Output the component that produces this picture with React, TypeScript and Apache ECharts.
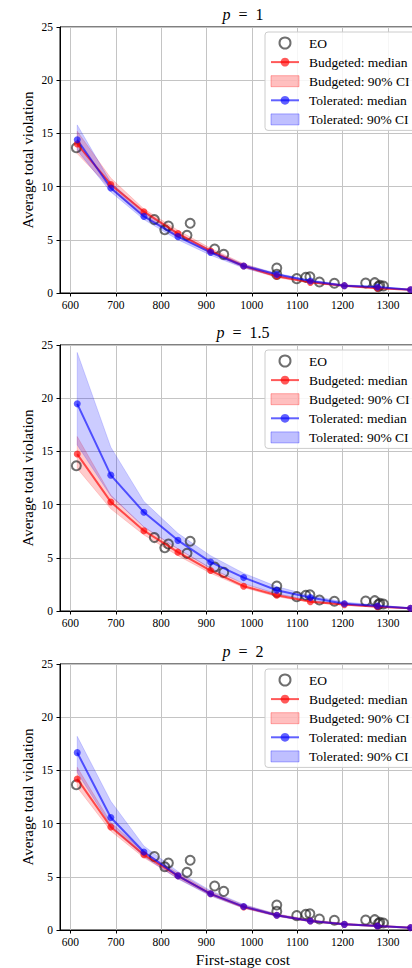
import React, { useEffect, useRef } from 'react';
import * as echarts from 'echarts';

const FONT = 'Liberation Serif';

const costs = [615, 689, 762, 837, 909, 982, 1055, 1129, 1204, 1277, 1350];

const eoCost = [613, 785, 808, 816, 857, 864, 918, 938, 1055, 1055, 1099, 1119, 1128, 1149, 1182, 1251, 1271, 1279, 1282, 1290];
const eoViolation = [13.65, 6.9, 5.95, 6.3, 5.42, 6.55, 4.14, 3.63, 2.35, 1.75, 1.35, 1.47, 1.53, 1.03, 0.91, 0.94, 0.97, 0.6, 0.72, 0.66];

const panelP = ['1', '1.5', '2'];

// p = 1
const budMed1 = [14.0, 10.2, 7.64, 5.58, 3.95, 2.54, 1.57, 1.0, 0.69, 0.44, 0.31];
const budLo1 = [13.1, 9.8, 7.2, 5.3, 3.75, 2.4, 1.45, 0.92, 0.62, 0.4, 0.27];
const budHi1 = [15.2, 10.8, 7.9, 5.9, 4.2, 2.75, 1.75, 1.12, 0.78, 0.5, 0.36];
const tolMed1 = [14.4, 9.87, 7.2, 5.3, 3.82, 2.54, 1.75, 1.13, 0.69, 0.56, 0.31];
const tolLo1 = [13.4, 9.5, 6.9, 5.0, 3.55, 2.35, 1.55, 1.0, 0.62, 0.48, 0.27];
const tolHi1 = [15.8, 10.4, 7.6, 5.6, 4.05, 2.7, 1.85, 1.22, 0.78, 0.6, 0.35];

// p = 1.5
const budMed2 = [14.75, 10.25, 7.55, 5.53, 3.8, 2.33, 1.48, 0.88, 0.6, 0.4, 0.25];
const budLo2 = [13.4, 9.6, 7.15, 5.2, 3.55, 2.2, 1.35, 0.8, 0.53, 0.35, 0.2];
const budHi2 = [16.4, 10.9, 7.9, 5.85, 4.05, 2.55, 1.62, 0.98, 0.68, 0.46, 0.28];
const tolMed2 = [19.47, 12.77, 9.28, 6.64, 4.6, 3.14, 1.95, 1.26, 0.69, 0.47, 0.25];
const tolLo2 = [15.6, 10.8, 7.9, 5.85, 4.0, 2.6, 1.6, 1.0, 0.6, 0.4, 0.2];
const tolHi2 = [24.3, 15.4, 10.3, 7.3, 5.2, 3.55, 2.3, 1.45, 0.85, 0.55, 0.3];

// p = 2
const budMed3 = [14.2, 9.68, 7.07, 5.09, 3.4, 2.17, 1.38, 0.85, 0.53, 0.38, 0.22];
const budLo3 = [13.4, 9.3, 6.8, 4.85, 3.25, 2.05, 1.3, 0.78, 0.48, 0.33, 0.18];
const budHi3 = [15.3, 10.1, 7.35, 5.35, 3.6, 2.35, 1.5, 0.95, 0.62, 0.44, 0.27];
const tolMed3 = [16.67, 10.57, 7.33, 5.09, 3.4, 2.2, 1.38, 0.85, 0.53, 0.38, 0.22];
const tolLo3 = [14.8, 9.8, 6.9, 4.8, 3.2, 2.05, 1.28, 0.78, 0.48, 0.33, 0.18];
const tolHi3 = [18.2, 12.1, 7.9, 5.5, 3.7, 2.4, 1.5, 0.95, 0.62, 0.44, 0.27];

const panels = [
  { budMed: budMed1, budLo: budLo1, budHi: budHi1, tolMed: tolMed1, tolLo: tolLo1, tolHi: tolHi1 },
  { budMed: budMed2, budLo: budLo2, budHi: budHi2, tolMed: tolMed2, tolLo: tolLo2, tolHi: tolHi2 },
  { budMed: budMed3, budLo: budLo3, budHi: budHi3, tolMed: tolMed3, tolLo: tolLo3, tolHi: tolHi3 },
];

const yTicks = [0, 5, 10, 15, 20, 25];

const gridTops = [27, 345, 664];
const gridHeight = 266;
const gridLeft = 60;
const gridWidth = 366;

const RED = 'rgba(255,0,0,0.65)';
const BLUE = 'rgba(0,0,255,0.62)';
const RED_BAND = 'rgba(255,0,0,0.2)';
const BLUE_BAND = 'rgba(0,0,255,0.2)';

function bandRenderer(fill: string) {
  return (params: any, api: any) => {
    if (params.dataIndexInside !== 0) return null;
    const n = params.dataInsideLength;
    const upper: number[][] = [];
    const lower: number[][] = [];
    for (let k = 0; k < n; k++) {
      const x = api.value(0, k);
      upper.push(api.coord([x, api.value(2, k)]));
      lower.push(api.coord([x, api.value(1, k)]));
    }
    const pts = upper.concat(lower.reverse());
    return {
      type: 'polygon',
      shape: { points: pts },
      style: { fill, stroke: fill, lineWidth: 0.8 },
      silent: true,
    };
  };
}

export default function App() {
  const ref = useRef<HTMLDivElement>(null);

  useEffect(() => {
    if (!ref.current) return;
    const chart = echarts.init(ref.current, undefined, { renderer: 'svg' });

    const grids: any[] = [];
    const xAxes: any[] = [];
    const yAxes: any[] = [];
    const series: any[] = [];
    const legends: any[] = [];
    const graphics: any[] = [];

    panels.forEach((pd, i) => {
      grids.push({
        left: gridLeft,
        top: gridTops[i],
        width: gridWidth,
        height: gridHeight,
        show: true,
        borderColor: '#000',
        borderWidth: 1,
        backgroundColor: 'transparent',
      });
      xAxes.push({
        type: 'value',
        gridIndex: i,
        min: 577,
        max: 1384,
        minInterval: 100,
        maxInterval: 100,
        name: i === 2 ? 'First-stage cost' : '',
        nameLocation: 'middle',
        nameGap: 21,
        nameMoveOverlap: false,
        nameTextStyle: { fontFamily: FONT, fontSize: 15.5, color: '#000' },
        axisLine: { show: true, lineStyle: { color: '#000', width: 1 } },
        axisTick: { show: true, length: 3.5, lineStyle: { color: '#000' } },
        axisLabel: {
          fontFamily: FONT,
          fontSize: 11.5,
          color: '#000',
          margin: 6,
          showMinLabel: false,
          showMaxLabel: false,
          formatter: (v: number) => (v % 100 === 0 ? String(v) : ''),
        },
        splitLine: { show: true, lineStyle: { color: '#c4c4c4', width: 1 } },
      });
      yAxes.push({
        type: 'value',
        gridIndex: i,
        min: yTicks[0],
        max: yTicks[yTicks.length - 1],
        interval: 5,
        name: 'Average total violation',
        nameLocation: 'middle',
        nameGap: 25,
        nameMoveOverlap: false,
        nameTextStyle: { fontFamily: FONT, fontSize: 15, color: '#000' },
        axisLine: { show: true, lineStyle: { color: '#000', width: 1 } },
        axisTick: { show: true, length: 3.5, lineStyle: { color: '#000' } },
        axisLabel: { fontFamily: FONT, fontSize: 11.5, color: '#000', margin: 7 },
        splitLine: { show: true, lineStyle: { color: '#c4c4c4', width: 1 } },
      });

      const base = { xAxisIndex: i, yAxisIndex: i };

      series.push({
        ...base,
        type: 'custom',
        name: 'Budgeted: 90% CI',
        data: costs.map((c, k) => [c, pd.budLo[k], pd.budHi[k]]),
        encode: { x: 0, y: [1, 2] },
        renderItem: bandRenderer(RED_BAND),
        itemStyle: { color: RED_BAND },
        clip: true,
        silent: true,
        z: 1,
      });
      series.push({
        ...base,
        type: 'custom',
        name: 'Tolerated: 90% CI',
        data: costs.map((c, k) => [c, pd.tolLo[k], pd.tolHi[k]]),
        encode: { x: 0, y: [1, 2] },
        renderItem: bandRenderer(BLUE_BAND),
        itemStyle: { color: BLUE_BAND },
        clip: true,
        silent: true,
        z: 1,
      });

      series.push({
        ...base,
        type: 'scatter',
        name: 'EO',
        data: eoCost.map((c, k) => [c, eoViolation[k]]),
        symbol: 'circle',
        symbolSize: 9,
        itemStyle: { color: 'rgba(0,0,0,0)', borderColor: 'rgba(30,30,30,0.8)', borderWidth: 2 },
        z: 2,
      });

      series.push({
        ...base,
        type: 'line',
        name: 'Budgeted: median',
        data: costs.map((c, k) => [c, pd.budMed[k]]),
        symbol: 'circle',
        symbolSize: 7,
        showSymbol: true,
        lineStyle: { color: RED, width: 2 },
        itemStyle: { color: RED },
        z: 3,
      });
      series.push({
        ...base,
        type: 'line',
        name: 'Tolerated: median',
        data: costs.map((c, k) => [c, pd.tolMed[k]]),
        symbol: 'circle',
        symbolSize: 7,
        showSymbol: true,
        lineStyle: { color: BLUE, width: 2 },
        itemStyle: { color: BLUE },
        z: 3,
      });

      legends.push({
        left: 265,
        top: gridTops[i] + 5,
        orient: 'vertical',
        itemWidth: 28,
        itemHeight: 11,
        itemGap: 5.1,
        padding: [4, 6, 4, 5],
        backgroundColor: 'rgba(255,255,255,0.85)',
        borderColor: '#cccccc',
        borderWidth: 1,
        borderRadius: 3,
        selectedMode: false,
        textStyle: { fontFamily: FONT, fontSize: 13.5, color: '#000', padding: [0, 0, 0, 5] },
        data: [
          { name: 'EO', itemStyle: { borderWidth: 2 } },
          { name: 'Budgeted: median' },
          { name: 'Budgeted: 90% CI', icon: 'rect', itemStyle: { color: 'rgba(255,0,0,0.25)', borderColor: 'rgba(255,0,0,0.3)', borderWidth: 1 } },
          { name: 'Tolerated: median' },
          { name: 'Tolerated: 90% CI', icon: 'rect', itemStyle: { color: 'rgba(0,0,255,0.25)', borderColor: 'rgba(0,0,255,0.3)', borderWidth: 1 } },
        ],
      });

      graphics.push({
        type: 'text',
        x: gridLeft + gridWidth / 2,
        y: gridTops[i] - 13,
        style: {
          text: `{i|p}\u2002=\u2002${panelP[i]}`,
          align: 'center',
          verticalAlign: 'middle',
          fontFamily: FONT,
          fontSize: 16,
          fontWeight: 'normal',
          fill: '#000',
          rich: { i: { fontStyle: 'italic', fontFamily: FONT, fontSize: 16, fontWeight: 'normal' } },
        },
      });
    });

    chart.setOption({
      animation: false,
      backgroundColor: '#fff',
      grid: grids,
      xAxis: xAxes,
      yAxis: yAxes,
      legend: legends,
      series,
      graphic: graphics,
    });

    return () => chart.dispose();
  }, []);

  return (
    <div style={{ position: 'absolute', left: 0, top: 0, width: 412, height: 968, overflow: 'hidden', background: '#fff' }}>
      <div ref={ref} style={{ width: 440, height: 968 }} />
    </div>
  );
}
